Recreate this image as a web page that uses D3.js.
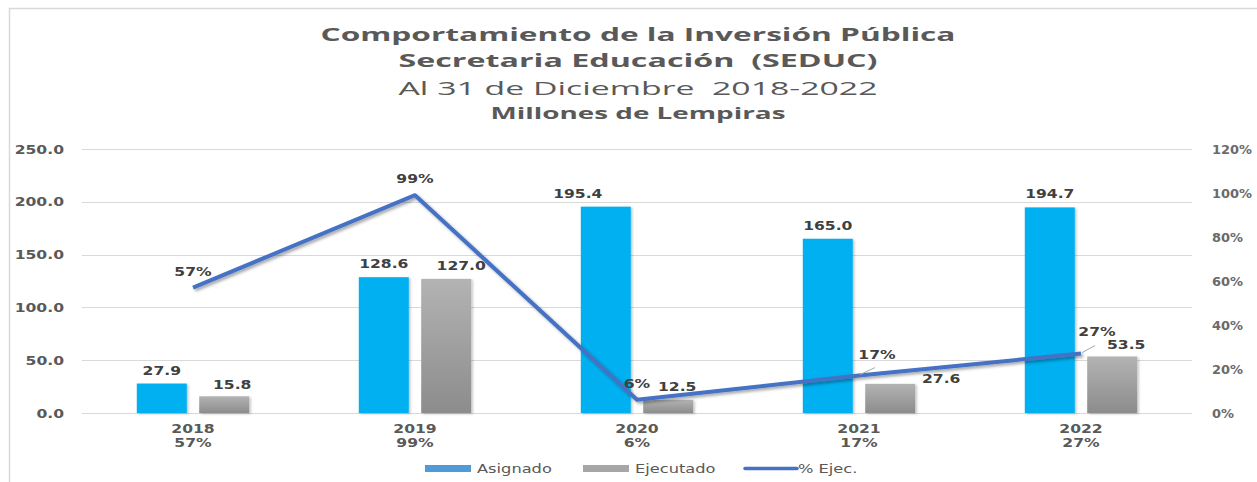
<!DOCTYPE html>
<html>
<head>
<meta charset="utf-8">
<script src="https://cdn.jsdelivr.net/npm/d3@7"></script>
<style>
  html, body { margin: 0; padding: 0; background: #fff; }
  svg { display: block; }
  text { white-space: pre; }
</style>
</head>
<body>
<svg id="chart" width="1257" height="482"></svg>
<script>
// ---- Data ----
const years = ["2018", "2019", "2020", "2021", "2022"];
const asignado = [27.9, 128.6, 195.4, 165.0, 194.7];
const ejecutado = [15.8, 127.0, 12.5, 27.6, 53.5];
const pctEjec = [0.57, 0.99, 0.06, 0.17, 0.27];
const leftTicks = [0, 50, 100, 150, 200, 250];
const rightTicks = [0, 0.2, 0.4, 0.6, 0.8, 1.0, 1.2];
const seriesNames = ["Asignado", "Ejecutado", "% Ejec."];
const titleLines = [
  "Comportamiento de la Inversión Pública",
  "Secretaria Educación  (SEDUC)",
  "Al 31 de Diciembre  2018-2022",
  "Millones de Lempiras"
];

// ---- Layout ----
const svg = d3.select("#chart");
const W = 1257, H = 482;
const plot = { left: 82, right: 1192, top: 149, bottom: 413 };
const textColor = "#595959";
const SX = 1.3;

const x = d3.scaleBand().domain(years).range([plot.left, plot.right]).paddingInner(0).paddingOuter(0);
const xs = d3.scaleBand().domain(["Asignado", "Ejecutado"]).range([0, x.bandwidth()])
  .paddingInner(0.199).paddingOuter(0.878);
const yL = d3.scaleLinear().domain([0, 250]).range([plot.bottom, plot.top]);
const yR = d3.scaleLinear().domain([0, 1.2]).range([plot.bottom, plot.top]);

const defs = svg.append("defs");
const grad = defs.append("linearGradient").attr("id", "grayGrad")
  .attr("x1", 0).attr("y1", 0).attr("x2", 0).attr("y2", 1);
grad.append("stop").attr("offset", "0%").attr("stop-color", "#b3b3b3");
grad.append("stop").attr("offset", "100%").attr("stop-color", "#8c8c8c");
const f1 = defs.append("filter").attr("id", "shadow").attr("x", "-20%").attr("y", "-20%").attr("width", "150%").attr("height", "150%");
f1.append("feDropShadow").attr("dx", 2).attr("dy", 2).attr("stdDeviation", 1.6)
  .attr("flood-color", "#000").attr("flood-opacity", 0.35);
const f2 = defs.append("filter").attr("id", "barShadow").attr("x", "-20%").attr("y", "-20%").attr("width", "150%").attr("height", "150%");
f2.append("feDropShadow").attr("dx", 1.5).attr("dy", 1).attr("stdDeviation", 1.2)
  .attr("flood-color", "#000").attr("flood-opacity", 0.25);

// Text helper with horizontal stretch
function T(parent, px, py, str, opt) {
  const o = Object.assign({ size: 12, weight: "bold", anchor: "middle", sx: SX, fill: textColor, family: "DejaVu Sans" }, opt || {});
  return parent.append("text")
    .attr("transform", `translate(${px},${py}) scale(${o.sx},1)`)
    .attr("text-anchor", o.anchor)
    .attr("font-family", o.family)
    .attr("font-size", o.size)
    .attr("font-weight", o.weight)
    .attr("fill", o.fill)
    .text(str);
}

// ---- Border ----
svg.append("path")
  .attr("d", `M9.5,${H + 5} L9.5,8.5 L${W + 5},8.5`)
  .attr("fill", "none").attr("stroke", "#d9d9d9").attr("stroke-width", 1.5);

// ---- Title ----
const titleG = svg.append("g");
const titleSpecs = [
  { y: 40.7, size: 18, weight: "bold", width: 635 },
  { y: 66.7, size: 18, weight: "bold", width: 479 },
  { y: 95, size: 19, weight: "normal", width: 479 },
  { y: 119, size: 15.5, weight: "bold", width: 295 }
];
titleLines.forEach((line, i) => {
  const s = titleSpecs[i];
  titleG.append("text")
    .attr("x", 638).attr("y", s.y)
    .attr("text-anchor", "middle")
    .attr("font-family", "Open Sans")
    .attr("font-size", s.size)
    .attr("font-weight", s.weight)
    .attr("fill", textColor)
    .attr("textLength", s.width)
    .attr("lengthAdjust", "spacingAndGlyphs")
    .text(line);
});

// ---- Gridlines ----
const grid = svg.append("g");
grid.selectAll("line").data(leftTicks).join("line")
  .attr("x1", plot.left).attr("x2", plot.right)
  .attr("y1", d => Math.round(yL(d)) + 0.5).attr("y2", d => Math.round(yL(d)) + 0.5)
  .attr("stroke", "#d9d9d9").attr("stroke-width", 1.2);

// ---- Left axis labels ----
const leftAx = svg.append("g");
leftTicks.forEach(t => {
  T(leftAx, 64, yL(t) + 4.5, d3.format(".1f")(t), { anchor: "end" });
});

// ---- Right axis labels ----
const rightAx = svg.append("g");
rightTicks.forEach(t => {
  T(rightAx, 1212, yR(t) + 4.5, d3.format(".0%")(t), { anchor: "start", fill: "#6a6a6a", sx: 1.08 });
});

// ---- Bars ----
const barsG = svg.append("g");
const barColor = { Asignado: "#00B0F0", Ejecutado: "url(#grayGrad)" };
const barData = [];
years.forEach((yr, i) => {
  barData.push({ yr, key: "Asignado", v: asignado[i], i });
  barData.push({ yr, key: "Ejecutado", v: ejecutado[i], i });
});
barsG.selectAll("rect").data(barData).join("rect")
  .attr("x", d => x(d.yr) + xs(d.key))
  .attr("width", xs.bandwidth())
  .attr("y", d => yL(d.v))
  .attr("height", d => yL(0) - yL(d.v))
  .attr("fill", d => barColor[d.key])
  .attr("filter", "url(#barShadow)");

// Bar value labels (with small placement nudges like the original)
const valLab = svg.append("g");
const valNudge = {
  "Asignado-2020": [-28, 0],
  "Ejecutado-2018": [8, 2],
  "Ejecutado-2019": [15, 0],
  "Ejecutado-2020": [9, 0],
  "Ejecutado-2021": [51, 8],
  "Ejecutado-2022": [14, 1]
};
barData.forEach(d => {
  const n = valNudge[d.key + "-" + d.yr] || [0, 0];
  const cx = x(d.yr) + xs(d.key) + xs.bandwidth() / 2 + n[0];
  const by = yL(d.v) - 9 + n[1];
  T(valLab, cx, by, d3.format(".1f")(d.v), { fill: "#404040" });
});

// ---- Line ----
const cx = yr => x(yr) + x.bandwidth() / 2;
const lineGen = d3.line().x((d, i) => cx(years[i])).y(d => yR(d));
svg.append("path")
  .datum(pctEjec)
  .attr("d", lineGen)
  .attr("fill", "none")
  .attr("stroke", "#4472C4")
  .attr("stroke-width", 4)
  .attr("stroke-linejoin", "round")
  .attr("filter", "url(#shadow)");

// Percent labels
const pctLab = svg.append("g");
const pctNudge = { "2021": [18, -5], "2022": [16, -6] };
pctEjec.forEach((p, i) => {
  const yr = years[i];
  const n = pctNudge[yr];
  const px = cx(yr), py = yR(p);
  if (n) {
    pctLab.append("line")
      .attr("x1", px + 1).attr("y1", py - 1)
      .attr("x2", px + n[0] - 2).attr("y2", py - 8)
      .attr("stroke", "#a6a6a6").attr("stroke-width", 1);
    T(pctLab, px + n[0], py - 12 + n[1], d3.format(".0%")(p), { fill: "#404040" });
  } else {
    T(pctLab, px, py - 12, d3.format(".0%")(p), { fill: "#404040" });
  }
});

// ---- X axis labels ----
const xAx = svg.append("g");
years.forEach((yr, i) => {
  T(xAx, cx(yr), 432.5, yr, {});
  T(xAx, cx(yr), 446.5, d3.format(".0%")(pctEjec[i]), {});
});

// ---- Legend ----
const leg = svg.append("g");
leg.append("rect").attr("x", 425).attr("y", 465).attr("width", 46).attr("height", 7).attr("fill", "#4F9AD9");
T(leg, 477, 473, seriesNames[0], { anchor: "start", weight: "normal", size: 12.5 });
leg.append("rect").attr("x", 583).attr("y", 465).attr("width", 46).attr("height", 7).attr("fill", "#a6a6a6");
T(leg, 635, 473, seriesNames[1], { anchor: "start", weight: "normal", size: 12.5 });
leg.append("line").attr("x1", 745).attr("x2", 797).attr("y1", 468.5).attr("y2", 468.5)
  .attr("stroke", "#4472C4").attr("stroke-width", 3.5).attr("stroke-linecap", "round");
T(leg, 798, 473, seriesNames[2], { anchor: "start", weight: "normal", size: 12.5 });
</script>
</body>
</html>
